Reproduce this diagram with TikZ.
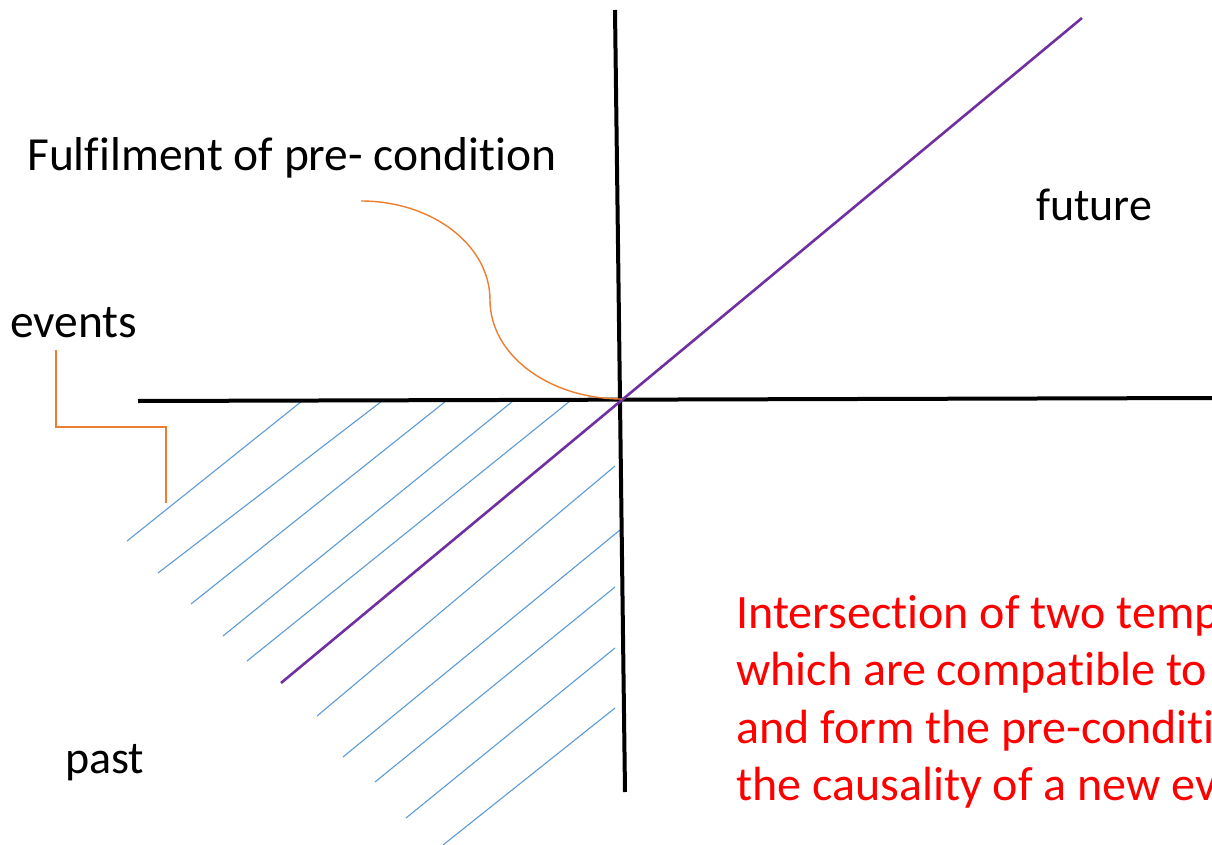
\documentclass[tikz,border=0pt]{standalone}
\usepackage{fontspec}
\setmainfont{Carlito}[Ligatures=CommonOff]
\definecolor{hatch}{RGB}{91,155,213}
\definecolor{lead}{RGB}{237,125,49}
\definecolor{diag}{RGB}{112,48,160}
\definecolor{note}{RGB}{255,0,0}

\begin{document}
\begin{tikzpicture}[
    x=1pt, y=-1pt,
    tag/.style={anchor=base west, inner sep=0pt, font=\fontsize{46}{55}\selectfont},
    bigtag/.style={tag, font=\fontsize{47.5}{57}\selectfont},
    notetext/.style={tag, text=note, font=\fontsize{48}{57.5}\selectfont},
    axis/.style={black, line width=4pt},
    hatchline/.style={hatch, line width=1.1pt},
    leader/.style={lead, line width=1.4pt},
    diagonal/.style={diag, line width=2.6pt}
]

% Frame
\clip (0,0) rectangle (1212,845);

% Axes
\coordinate (origin) at (622,399);
\coordinate (ytop) at (615,10);
\coordinate (ybot) at (625,792);
\coordinate (xleft) at (138,401);
\coordinate (xright) at (1216,398);

% Hatching of the past
\foreach \xa/\ya/\xb/\yb in {127/541/302/401, 158/573/382/401, 191/604/446/401,
    223/636/513/401, 247/661/570/401, 317/716/615/466, 343/757/620/530,
    375/782/615/587, 406/818/615/648, 443/845/615/708}
    \draw[hatchline] (\xa,\ya) -- (\xb,\yb);

\draw[axis] (ytop) -- (ybot);
\draw[axis] (xleft) -- (xright);

% Diagonal
\coordinate (dlow) at (281,683);
\coordinate (dhigh) at (1082,18);
\draw[diagonal] (dlow) -- (dhigh);

% Labels
\node[bigtag] (fulfil) at (27,171) {Fulfilment of pre- condition};
\node[bigtag] (events) at (10,337) {events};
\node[tag] (future) at (1036,220) {future};
\node[tag] (past) at (65,773) {past};
\foreach \line [count=\i] in {Intersection of two temp, which are compatible to,
    and form the pre-conditi, the causality of a new ev}
    \node[notetext] (note\i) at (736,{628+57.5*(\i-1)}) {\line};

% Leaders
\coordinate (fulfilend) at (361,201);
\draw[leader] (fulfilend) .. controls (432,201) and (490,245) .. (490,300)
    .. controls (490,355) and (549,399) .. (origin);
\coordinate (eventsend) at (56,350);
\draw[leader] (eventsend) -- (56,427) -- (166,427) -- (166,503);

\end{tikzpicture}
\end{document}
